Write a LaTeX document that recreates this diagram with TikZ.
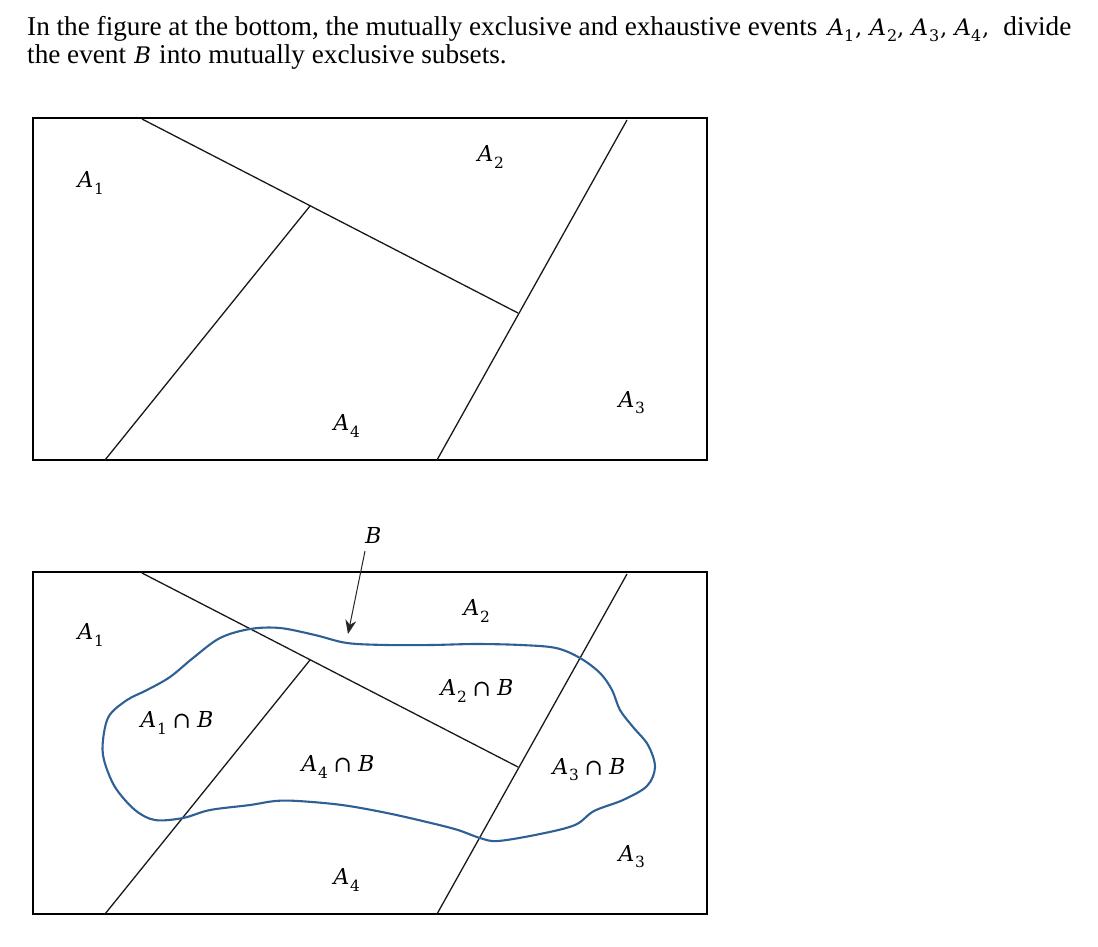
\documentclass[tikz,border=0pt]{standalone}
\usepackage{fontspec}
\usepackage{unicode-math}
\setmainfont{Liberation Serif}
\setmathfont{DejaVu Math TeX Gyre}
\usetikzlibrary{arrows.meta}
\definecolor{bblue}{RGB}{46,96,150}
\newcommand{\hm}[1]{{\fontsize{22.8}{30}\selectfont$#1$}}
\tikzset{
  frame/.style={draw=black,line width=1.9pt},
  divline/.style={draw=black!90,line width=1.3pt},
  lbl/.style={inner sep=0pt,font=\fontsize{22}{26}\selectfont},
  txt/.style={inner sep=0pt,anchor=base west,font=\fontsize{27.2}{30}\selectfont},
  bcurve/.style={draw=bblue,line width=2.1pt},
  parrow/.style={draw=black!85,line width=1pt,-{Stealth[length=14pt,width=11pt]}}
}
\begin{document}
\begin{tikzpicture}[x=1pt,y=-1pt]
\useasboundingbox (0,0) rectangle (1098,946);
\fill[white] (0,0) rectangle (1098,946);
% header text
\node[txt] (t1) at (27,35) {In the figure at the bottom, the mutually exclusive and exhaustive events \hm{A_1,A_2,A_3,A_4,}\ \ divide};
\node[txt] (t2) at (27,63) {the event \hm{B} into mutually exclusive subsets.};
% top diagram
\draw[frame] (33,118) rectangle (707,460);
\coordinate (p1) at (142,119);
\coordinate (p2) at (518,313);
\coordinate (p3) at (310,206);
\coordinate (p4) at (105,460);
\coordinate (p5) at (627,120);
\coordinate (p6) at (437,460);
\draw[divline] (p1) -- (p2);
\draw[divline] (p3) -- (p4);
\draw[divline] (p5) -- (p6);
\node[lbl] (a1) at (90,183) {$A_1$};
\node[lbl] (a2) at (490,157) {$A_2$};
\node[lbl] (a3) at (631,403) {$A_3$};
\node[lbl] (a4) at (346,426) {$A_4$};
% bottom diagram
\draw[frame] (33,572) rectangle (707,914);
\coordinate (q1) at (142,573);
\coordinate (q2) at (518,767);
\coordinate (q3) at (310,660);
\coordinate (q4) at (105,914);
\coordinate (q5) at (627,574);
\coordinate (q6) at (437,914);
\draw[divline] (q1) -- (q2);
\draw[divline] (q3) -- (q4);
\draw[divline] (q5) -- (q6);
\draw[bcurve] plot[smooth cycle, tension=0.55] coordinates {
  (250,629) (280,628) (315,635) (347,643) (387,645) (431,645) (476,644)
  (521,645) (556,648) (580,658) (600,673) (612,690) (620,710) (633,727)
  (648,745) (655,767) (647,786) (623,800) (594,811) (575,825) (540,834)
  (498,841) (480,838) (458,830) (431,823) (387,813) (342,805) (298,801)
  (275,801) (250,805) (210,810) (183,818) (155,820) (135,810) (115,787)
  (104,760) (103,740) (109,716) (127,700) (147,690) (170,677) (193,658)
  (220,638)};
\node[lbl] (b1) at (90,635) {$A_1$};
\node[lbl] (b2) at (476,611) {$A_2$};
\node[lbl] (b3) at (631,857) {$A_3$};
\node[lbl] (b4) at (346,880) {$A_4$};
\node[lbl] (nb) at (373,535) {$B$};
\coordinate (tip) at (348,634);
\coordinate (tail) at (365,551);
\draw[parrow] (tail) -- (tip);
\node[lbl] (c1) at (176,723) {$A_1\cap B$};
\node[lbl] (c2) at (476,691) {$A_2\cap B$};
\node[lbl] (c4) at (337,767) {$A_4\cap B$};
\node[lbl] (c3) at (588,770) {$A_3\cap B$};
\end{tikzpicture}
\end{document}
